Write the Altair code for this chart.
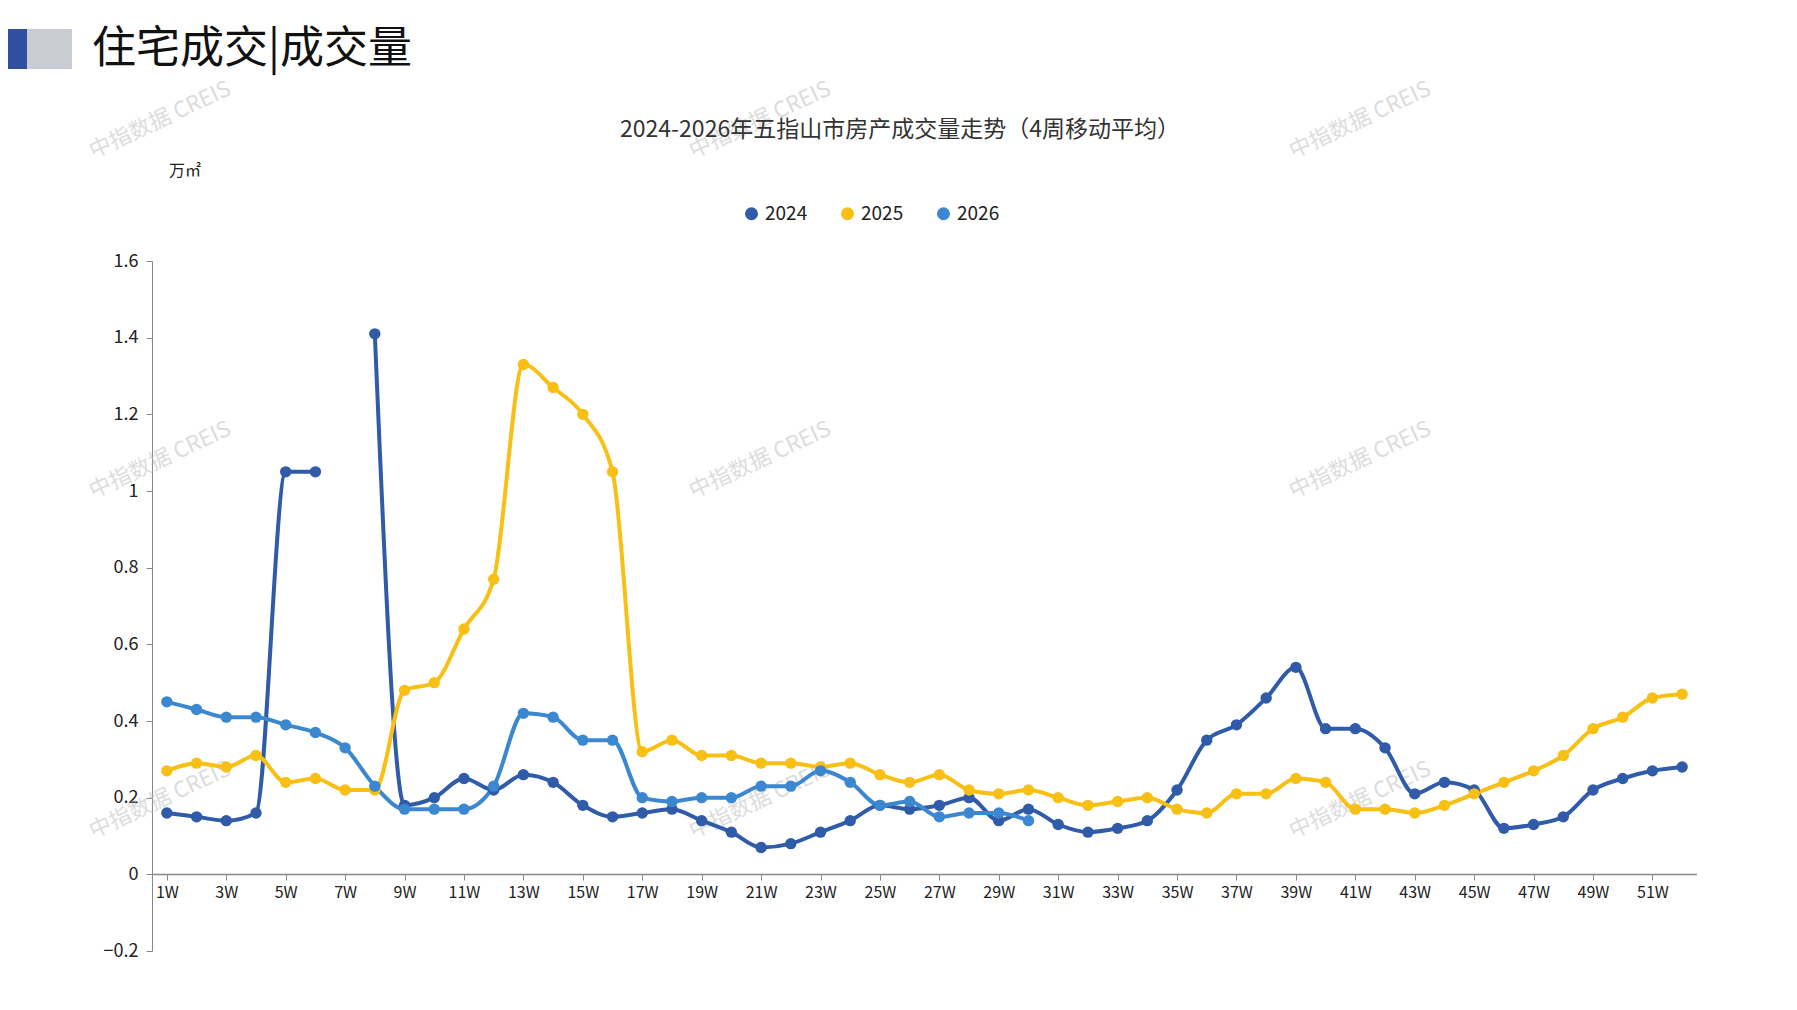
import altair as alt
import pandas as pd

weeks = list(range(1, 53))
y2024 = [0.16,0.15,0.14,0.16,1.05,1.05,None,1.41,0.18,0.20,0.25,0.22,0.26,0.24,0.18,0.15,0.16,0.17,0.14,0.11,
         0.07,0.08,0.11,0.14,0.18,0.17,0.18,0.20,0.14,0.17,0.13,0.11,0.12,0.14,0.22,0.35,0.39,0.46,0.54,0.38,
         0.38,0.33,0.21,0.24,0.22,0.12,0.13,0.15,0.22,0.25,0.27,0.28]
y2025 = [0.27,0.29,0.28,0.31,0.24,0.25,0.22,0.22,0.48,0.50,0.64,0.77,1.33,1.27,1.20,1.05,0.32,0.35,0.31,0.31,
         0.29,0.29,0.28,0.29,0.26,0.24,0.26,0.22,0.21,0.22,0.20,0.18,0.19,0.20,0.17,0.16,0.21,0.21,0.25,0.24,
         0.17,0.17,0.16,0.18,0.21,0.24,0.27,0.31,0.38,0.41,0.46,0.47]
y2026 = [0.45,0.43,0.41,0.41,0.39,0.37,0.33,0.23,0.17,0.17,0.17,0.23,0.42,0.41,0.35,0.35,0.20,0.19,0.20,0.20,
         0.23,0.23,0.27,0.24,0.18,0.19,0.15,0.16,0.16,0.14]
years = ["2024", "2025", "2026"]
colors = ["#2F5BA8", "#F8BF14", "#3B88D0"]

rows = []
for yr, vals in zip(years, [y2024, y2025, y2026]):
    seg = 0
    for w, v in zip(weeks, vals):
        if v is None:
            seg += 1
            continue
        rows.append({"week": w, "value": v, "year": yr, "seg": f"{yr}-{seg}"})
df = pd.DataFrame(rows)

W, H = 1545, 690
xs = alt.Scale(domain=[0.5, 52.5], nice=False, zero=False)
ys = alt.Scale(domain=[-0.2, 1.6], nice=False)
col = alt.Scale(domain=years, range=colors)
font = "Noto Sans CJK SC"

base = alt.Chart(df)
lines = base.mark_line(strokeWidth=4, interpolate="monotone").encode(
    x=alt.X("week:Q", scale=xs, axis=alt.Axis(values=list(range(1, 52, 2)), labelExpr="datum.value + 'W'",
            offset=-77, grid=False, domainColor="#888", tickColor="#888", tickSize=6, domainWidth=1.5,
            labelFont=font, labelFontSize=16, labelColor="#222", title=None, labelPadding=4)),
    y=alt.Y("value:Q", scale=ys, axis=alt.Axis(values=[-0.2,0,0.2,0.4,0.6,0.8,1.0,1.2,1.4,1.6],
            labelExpr="format(datum.value, '~g')", grid=False, domainColor="#888", tickColor="#888",
            tickSize=6, labelFont=font, labelFontSize=18, labelColor="#222", title=None, labelPadding=8)),
    color=alt.Color("year:N", scale=col, legend=alt.Legend(orient="none", legendX=590, legendY=-57,
            direction="horizontal", title=None, symbolType="circle", symbolSize=170, labelFont=font,
            labelFontSize=19, labelColor="#222", columnPadding=30, symbolStrokeWidth=0)),
    detail="seg:N",
)
points = base.mark_circle(size=130, opacity=1).encode(
    x=alt.X("week:Q", scale=xs), y=alt.Y("value:Q", scale=ys),
    color=alt.Color("year:N", scale=col, legend=None),
)

title_df = pd.DataFrame({"t": ["2024-2026年五指山市房产成交量走势（4周移动平均）"]})
title = alt.Chart(title_df).mark_text(font=font, fontSize=23, color="#333").encode(
    text="t:N", x=alt.value(900 - 152), y=alt.value(-131))
unit = alt.Chart(pd.DataFrame({"t": ["万㎡"]})).mark_text(font=font, fontSize=16, color="#222").encode(
    text="t:N", x=alt.value(185 - 152), y=alt.value(-90))
head = alt.Chart(pd.DataFrame({"t": ["住宅成交|成交量"]})).mark_text(font=font, fontSize=44, align="left",
    color="#111").encode(text="t:N", x=alt.value(92 - 152), y=alt.value(-211))
r1 = alt.Chart(pd.DataFrame({"a": [0]})).mark_rect(color="#2F4FA0").encode(
    x=alt.value(-152), x2=alt.value(-125), y=alt.value(-232), y2=alt.value(-192))
r2 = alt.Chart(pd.DataFrame({"a": [0]})).mark_rect(color="#C9CCD3").encode(
    x=alt.value(-125), x2=alt.value(-80), y=alt.value(-232), y2=alt.value(-192))

wm_pos = [(160, 120), (760, 120), (1360, 120), (160, 460), (760, 460), (1360, 460), (160, 800), (760, 800), (1360, 800)]
wm = pd.DataFrame({"px": [p[0] - 152 for p in wm_pos], "py": [p[1] - 261 for p in wm_pos], "t": ["中指数据 CREIS"] * 9})
water = alt.Chart(wm).mark_text(font=font, fontSize=22, color="#BBBBBB", opacity=0.5, angle=335).encode(
    x=alt.X("px:Q", scale=None, axis=None), y=alt.Y("py:Q", scale=None, axis=None), text="t:N")

chart = alt.layer(water, lines, points, title, unit, head, r1, r2).resolve_scale(color="shared").properties(
    width=W, height=H, autosize=alt.AutoSizeParams(type="none"), background="white",
    padding={"left": 144, "top": 253, "right": 0, "bottom": 40},
).configure_view(stroke=None)

chart.save("out.html", embed_options={"renderer": "svg", "actions": False})
